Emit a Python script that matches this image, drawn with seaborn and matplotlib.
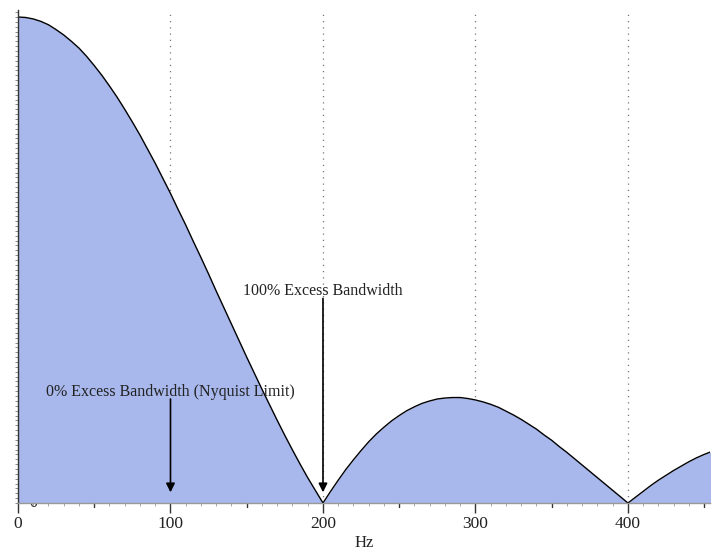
import numpy as np
import pandas as pd
import matplotlib
matplotlib.use("Agg")
import matplotlib.pyplot as plt
import matplotlib.transforms as mtransforms
from matplotlib.ticker import MultipleLocator, FixedLocator
import seaborn as sns

# Magnitude spectrum of a rectangular pulse (normalised), sampled every 5 Hz
freq_hz = list(range(0, 460, 5))
magnitude = [
    1.000, 0.999, 0.996, 0.991, 0.984, 0.974, 0.963, 0.950, 0.936, 0.919,
    0.900, 0.880, 0.858, 0.835, 0.810, 0.784, 0.757, 0.728, 0.699, 0.668,
    0.637, 0.604, 0.572, 0.538, 0.505, 0.471, 0.436, 0.402, 0.368, 0.334,
    0.300, 0.267, 0.234, 0.202, 0.170, 0.139, 0.109, 0.080, 0.052, 0.026,
    0.000, 0.024, 0.047, 0.069, 0.089, 0.108, 0.126, 0.142, 0.156, 0.169,
    0.180, 0.190, 0.198, 0.205, 0.210, 0.214, 0.216, 0.217, 0.217, 0.215,
    0.212, 0.208, 0.203, 0.197, 0.189, 0.181, 0.172, 0.162, 0.152, 0.140,
    0.129, 0.116, 0.104, 0.091, 0.078, 0.065, 0.052, 0.039, 0.026, 0.013,
    0.000, 0.012, 0.024, 0.036, 0.047, 0.057, 0.067, 0.076, 0.085, 0.093,
    0.100, 0.106,
]

x_ticks = [0, 100, 200, 300, 400]
x_label = "Hz"

# Annotations: (text, frequency, text baseline height, arrow tail, arrow head)
notes = [
    ("0% Excess Bandwidth (Nyquist Limit)", 100, 0.221, 0.214, 0.022),
    ("100% Excess Bandwidth", 200, 0.428, 0.421, 0.022),
]

df = pd.DataFrame({"freq": freq_hz, "mag": magnitude})

sns.set_theme(style="white")
plt.rcParams["font.family"] = ["Liberation Serif", "DejaVu Serif"]

fig = plt.figure(figsize=(7.16, 5.5), dpi=100)
ax = fig.add_axes([18 / 716, 1 - 503 / 550, 692 / 716, 493 / 550])

fill_color = "#a8b8ec"

# dotted vertical guides
for xv in [100, 200, 300, 400]:
    ax.axvline(xv, color="#777777", lw=0.9, ls=(0, (1, 4)), zorder=0.5)

# stray zero label sitting under the fill
ax.text(10, 0.0, "0", fontsize=11.5, color="#222222", ha="center", va="center", zorder=0.8)

ax.fill_between(df["freq"], df["mag"], 0, color=fill_color, lw=0, zorder=1)
sns.lineplot(data=df, x="freq", y="mag", ax=ax, color="black", lw=1.0, zorder=2)

ax.set_xlim(0, 453.8)
ax.set_ylim(0, 1.0144)

ax.xaxis.set_major_locator(FixedLocator(x_ticks))
ax.xaxis.set_minor_locator(MultipleLocator(10))
ax.yaxis.set_major_locator(FixedLocator([]))
ax.yaxis.set_minor_locator(MultipleLocator(0.01))
ax.tick_params(axis="x", which="major", length=7, width=1.0, color="#333333",
               labelsize=12.5, pad=2, bottom=True, labelcolor="#222222")
ax.tick_params(axis="x", which="minor", length=2, width=0.6, color="#999999", bottom=True)
ax.tick_params(axis="y", which="minor", length=2, width=0.6, color="#777777", left=True)

# half-way ticks at 50 Hz steps
trans = mtransforms.blended_transform_factory(ax.transData, ax.transAxes)
for xv in [50, 150, 250, 350, 450]:
    ax.plot([xv, xv], [0, -0.008], color="#333333", lw=1.0, transform=trans, clip_on=False)

for side in ["top", "right"]:
    ax.spines[side].set_visible(False)
ax.spines["left"].set_color("#333333")
ax.spines["left"].set_linewidth(1.0)
ax.spines["bottom"].set_color("#999999")
ax.spines["bottom"].set_linewidth(1.0)

ax.set_xlabel(x_label, fontsize=12, color="#222222", labelpad=2.5)
ax.set_ylabel("")

for text, fx, ty, y0, y1 in notes:
    ax.text(fx, ty, text, fontsize=11.5, color="#222222", ha="center", va="baseline", zorder=4)
    ax.annotate("", xy=(fx, y1), xytext=(fx, y0),
                arrowprops=dict(arrowstyle="-|>", color="black", lw=1.2,
                                mutation_scale=13, shrinkA=0, shrinkB=0),
                zorder=4)

fig.savefig("out.png", dpi=100)
